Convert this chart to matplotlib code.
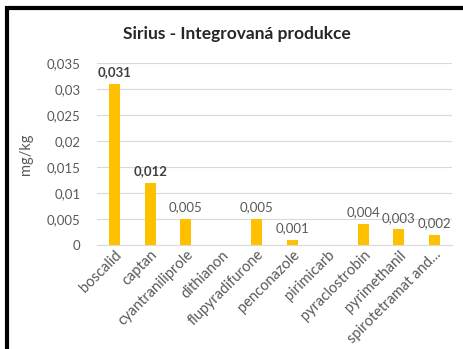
import matplotlib.pyplot as plt
from matplotlib.patches import Rectangle
from matplotlib.ticker import FuncFormatter

plt.rcParams['font.family'] = ['Lato', 'DejaVu Sans']

substances = ['boscalid', 'captan', 'cyantraniliprole', 'dithianon', 'flupyradifurone',
              'penconazole', 'pirimicarb', 'pyraclostrobin', 'pyrimethanil', 'spirotetramat and...']
values = [0.031, 0.012, 0.005, None, 0.005, 0.001, None, 0.004, 0.003, 0.002]
bold_labels = ['boscalid', 'captan']
yticks = [0, 0.005, 0.01, 0.015, 0.02, 0.025, 0.03, 0.035]

grey = '#595959'

fig = plt.figure(figsize=(4.63, 3.49), dpi=100)
# black frame around chart
fig.patches.append(Rectangle((7 / 463, -0.1), 1.2, 1.1 - 8 / 349, transform=fig.transFigure,
                             fill=False, edgecolor='black', linewidth=3))

ax = fig.add_axes([97 / 463, 1 - 245 / 349, 355 / 463, 182 / 349])
x = list(range(len(substances)))
heights = [v if v is not None else 0 for v in values]
ax.bar(x, heights, width=0.32, color='#FFC000', zorder=3)

for i, v in enumerate(values):
    if v is None:
        continue
    weight = 'bold' if substances[i] in bold_labels else 'normal'
    color = '#404040' if weight == 'bold' else grey
    ax.annotate(('%.3f' % v).replace('.', ','), (i, v), xytext=(0, 4), textcoords='offset points',
                ha='center', va='bottom', fontsize=9.5, fontweight=weight, color=color)

ax.set_ylim(0, 0.035)
ax.set_xlim(-0.5, len(substances) - 0.5)
ax.set_yticks(yticks)
ax.yaxis.set_major_formatter(FuncFormatter(lambda v, p: ('%g' % round(v, 3)).replace('.', ',')))
ax.grid(axis='y', color='#D9D9D9', linewidth=0.8, zorder=0)
for s in ['top', 'right', 'left']:
    ax.spines[s].set_visible(False)
ax.spines['bottom'].set_color('#D9D9D9')
ax.tick_params(axis='y', length=0, colors=grey, labelsize=9.5, pad=12)
ax.tick_params(axis='x', length=0, colors=grey, labelsize=10.5, pad=2)
ax.set_xticks(x)
ax.set_xticklabels(substances, rotation=45, ha='right', rotation_mode='anchor')
ax.set_ylabel('mg/kg', color=grey, fontsize=10.5, labelpad=10)

fig.text(237 / 463, 1 - 34 / 349, 'Sirius - Integrovaná produkce', ha='center', va='center',
         fontsize=12.5, fontweight='bold', color='#262626')

fig.savefig('out.png', dpi=100)
